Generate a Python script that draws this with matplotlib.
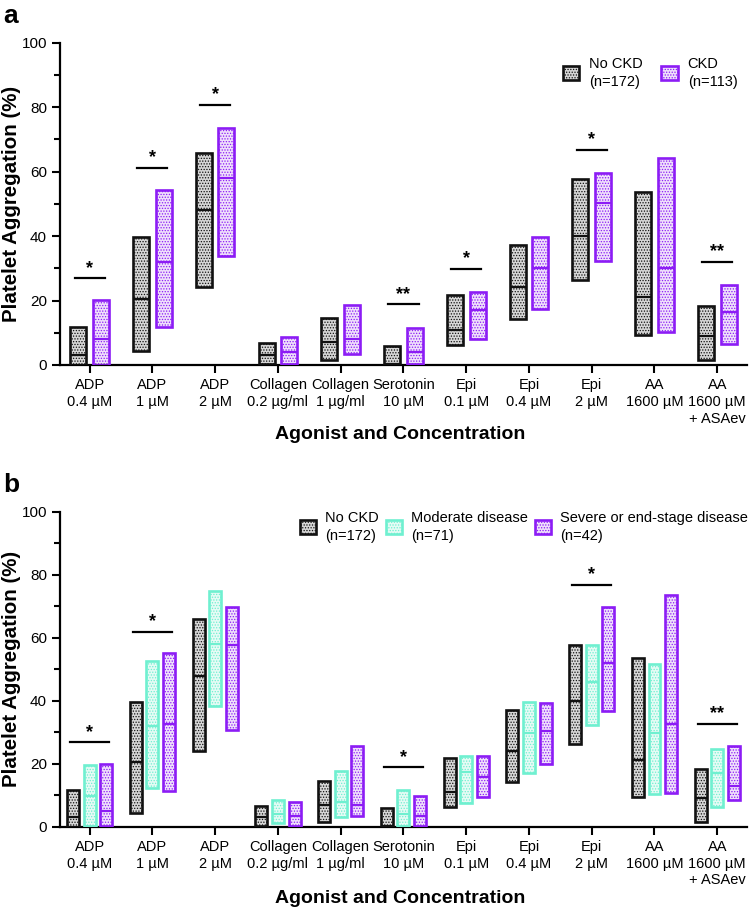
import matplotlib
matplotlib.use("Agg")
import matplotlib.pyplot as plt
from matplotlib.patches import Patch

plt.rcParams['font.family'] = ['Liberation Sans', 'DejaVu Sans']
plt.rcParams['hatch.linewidth'] = 0.6

# agonists / concentrations
agonists = ["ADP\n0.4 µM", "ADP\n1 µM", "ADP\n2 µM", "Collagen\n0.2 µg/ml",
            "Collagen\n1 µg/ml", "Serotonin\n10 µM", "Epi\n0.1 µM", "Epi\n0.4 µM",
            "Epi\n2 µM", "AA\n1600 µM", "AA\n1600 µM\n+ ASAev"]

# panel a : (Q1, median, Q3)
nockd_q1 = [0, 4.3, 24.1, 0.2, 1.6, 0.2, 6.3, 14.3, 26.3, 9.4, 1.6]
nockd_med = [3.1, 20.5, 48.0, 3.1, 7.0, 0.2, 11.0, 24.1, 40.0, 21.1, 9.0]
nockd_q3 = [11.7, 39.6, 65.9, 6.7, 14.6, 5.9, 21.7, 37.1, 57.6, 53.6, 18.4]

ckd_q1 = [0, 11.9, 33.8, 0.2, 3.4, 0.2, 8.2, 17.3, 32.4, 10.2, 6.4]
ckd_med = [8.0, 32.0, 58.0, 4.1, 8.0, 4.1, 17.0, 30.1, 50.1, 30.1, 16.4]
ckd_q3 = [20.2, 54.2, 73.6, 8.6, 18.6, 11.6, 22.6, 39.6, 59.7, 64.1, 24.8]

# panel b
mod_q1 = [0.2, 12.3, 38.3, 1.3, 3.2, 0.2, 7.6, 17.2, 32.3, 10.4, 6.3]
mod_med = [9.8, 32.1, 58.1, 4.1, 7.9, 4.0, 17.4, 29.8, 46.0, 29.9, 16.9]
mod_q3 = [19.7, 52.6, 74.7, 8.6, 17.7, 11.6, 22.6, 39.6, 57.7, 51.6, 24.6]

sev_q1 = [0.2, 11.4, 30.6, 0.2, 3.3, 0.2, 9.5, 19.8, 36.6, 10.7, 8.4]
sev_med = [5.0, 32.5, 57.6, 3.5, 6.9, 3.4, 15.9, 30.4, 52.1, 32.5, 13.0]
sev_q3 = [19.9, 55.0, 69.8, 7.7, 25.5, 9.7, 22.4, 39.4, 69.7, 73.7, 25.6]

# significance markers: (category index, bar height, label)
sig_a = [(0, 26.9, "*"), (1, 61.1, "*"), (2, 80.8, "*"), (5, 18.8, "**"),
         (6, 29.8, "*"), (8, 66.7, "*"), (10, 31.9, "**")]
sig_b = [(0, 26.8, "*"), (1, 61.9, "*"), (5, 18.8, "*"), (8, 76.9, "*"),
         (10, 32.6, "**")]

# styles: (edge colour, fill colour)
styles = {
    "nockd": ("#111111", "#d6d6d6"),
    "ckd": ("#8c1cf5", "#efe0fb"),
    "mod": ("#6ff0d0", "#e6fbf5"),
    "sev": ("#8c1cf5", "#efe0fb"),
}


def draw_group(ax, offset, width, q1, med, q3, key):
    edge, fill = styles[key]
    x = [i + offset for i in range(len(q1))]
    heights = [b - a for a, b in zip(q1, q3)]
    ax.bar(x, heights, width=width, bottom=q1, color=fill, edgecolor=edge,
           hatch="......", linewidth=0, zorder=2)
    ax.bar(x, heights, width=width, bottom=q1, color="none", edgecolor=edge,
           linewidth=1.9, zorder=3)
    for xi, m in zip(x, med):
        ax.plot([xi - width / 2, xi + width / 2], [m, m], color=edge,
                lw=1.6, zorder=4, solid_capstyle="butt")


def style_axes(ax, xlab_y):
    ax.set_xlim(-0.47, 10.47)
    ax.set_ylim(0, 100)
    ax.set_yticks(range(0, 101, 20))
    ax.set_yticks(range(10, 100, 20), minor=True)
    ax.set_xticks(range(len(agonists)))
    ax.set_xticklabels(agonists, fontsize=10.5, linespacing=1.25)
    ax.tick_params(axis="y", labelsize=11, width=1.5, length=6)
    ax.tick_params(axis="y", which="minor", width=1.5, length=4)
    ax.tick_params(axis="x", width=1.5, length=6)
    for s in ["top", "right"]:
        ax.spines[s].set_visible(False)
    for s in ["left", "bottom"]:
        ax.spines[s].set_linewidth(1.6)
    ax.set_ylabel("Platelet Aggregation (%)", fontsize=14.8, fontweight="bold")
    ax.yaxis.set_label_coords(-0.057, 0.5)
    ax.set_xlabel("Agonist and Concentration", fontsize=14, fontweight="bold")
    ax.xaxis.set_label_coords(0.495, xlab_y)


def draw_sig(ax, sig, half):
    for i, y, label in sig:
        ax.plot([i - half, i + half], [y, y], color="black", lw=1.6, zorder=4)
        ax.text(i, y + 0.5, label, ha="center", va="bottom", fontsize=13,
                fontweight="bold")


def legend_handle(key):
    edge, fill = styles[key]
    return Patch(facecolor=fill, edgecolor=edge, hatch="......", linewidth=1.9)


fig = plt.figure(figsize=(7.52, 9.14), dpi=100)
ax1 = fig.add_axes([0.080, 0.6007, 0.913, 0.3526])
ax2 = fig.add_axes([0.080, 0.0955, 0.913, 0.3446])

# panel a
draw_group(ax1, -0.18, 0.255, nockd_q1, nockd_med, nockd_q3, "nockd")
draw_group(ax1, 0.18, 0.255, ckd_q1, ckd_med, ckd_q3, "ckd")
draw_sig(ax1, sig_a, 0.24)
style_axes(ax1, -0.19)
leg1 = ax1.legend([legend_handle("nockd"), legend_handle("ckd")],
                  ["No CKD\n(n=172)", "CKD\n(n=113)"], ncol=2, frameon=False,
                  loc="upper right", bbox_to_anchor=(0.995, 0.975),
                  fontsize=10.5, handlelength=1.1, handleheight=1.1,
                  handletextpad=0.7, columnspacing=1.3, borderaxespad=0)
for t in leg1.get_texts():
    t.set_linespacing(1.4)

# panel b
draw_group(ax2, -0.265, 0.19, nockd_q1, nockd_med, nockd_q3, "nockd")
draw_group(ax2, 0.0, 0.19, mod_q1, mod_med, mod_q3, "mod")
draw_group(ax2, 0.265, 0.19, sev_q1, sev_med, sev_q3, "sev")
draw_sig(ax2, sig_b, 0.31)
style_axes(ax2, -0.20)
leg2 = ax2.legend([legend_handle("nockd"), legend_handle("mod"), legend_handle("sev")],
                  ["No CKD\n(n=172)", "Moderate disease\n(n=71)",
                   "Severe or end-stage disease\n(n=42)"], ncol=3, frameon=False,
                  loc="upper right", bbox_to_anchor=(1.01, 1.02), fontsize=10.5,
                  handlelength=1.1, handleheight=1.1, handletextpad=0.6,
                  columnspacing=0.5, borderaxespad=0)
for t in leg2.get_texts():
    t.set_linespacing(1.3)

fig.text(0.004, 0.975, "a", fontsize=19, fontweight="bold", va="baseline")
fig.text(0.004, 0.4617, "b", fontsize=19, fontweight="bold", va="baseline")

fig.savefig("out.png", dpi=100)
